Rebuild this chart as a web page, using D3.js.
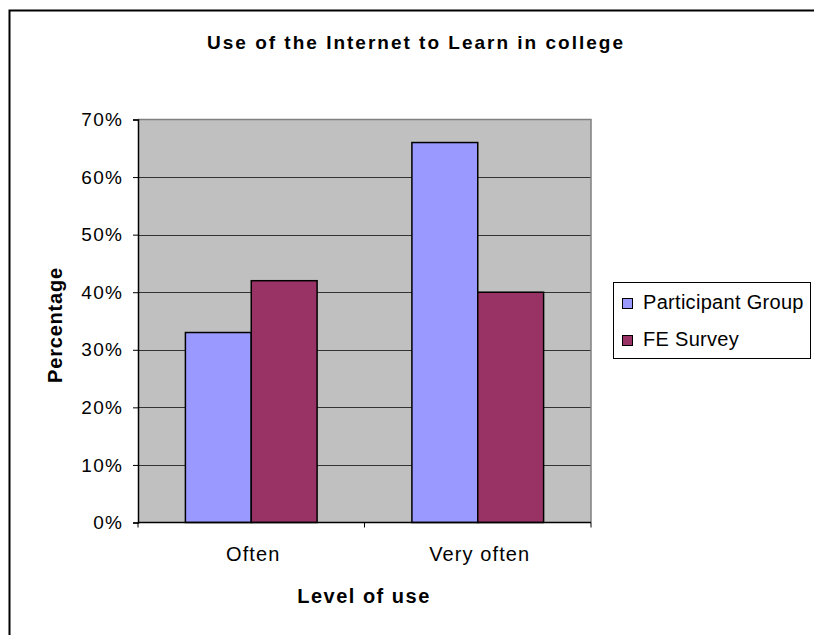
<!DOCTYPE html>
<html>
<head>
<meta charset="utf-8">
<script src="https://cdn.jsdelivr.net/npm/d3@7"></script>
<style>
  html, body { margin: 0; padding: 0; background: #fff; }
  svg { display: block; font-family: "Liberation Sans", Arial, sans-serif; }
</style>
</head>
<body>
<script>
// Chart data
const categories = ["Often", "Very often"];
const seriesNames = ["Participant Group", "FE Survey"];
const participantGroup = [0.33, 0.66];
const feSurvey = [0.42, 0.40];
const yTicks = [0, 0.1, 0.2, 0.3, 0.4, 0.5, 0.6, 0.7];
const seriesColors = ["#9999ff", "#993366"];

const W = 814, H = 635;
const plot = { left: 138, right: 591, top: 119.5, bottom: 522.5 };

const svg = d3.select("body").append("svg")
  .attr("width", W).attr("height", H);

// Outer chart frame
svg.append("rect")
  .attr("x", 9.5).attr("y", 10.5)
  .attr("width", 830).attr("height", 640)
  .attr("fill", "#fff").attr("stroke", "#000").attr("stroke-width", 2);

// Title
svg.append("text")
  .attr("x", 416).attr("y", 49)
  .attr("text-anchor", "middle")
  .attr("font-size", 19).attr("font-weight", "bold")
  .attr("letter-spacing", 2)
  .text("Use of the Internet to Learn in college");

const x0 = d3.scaleBand().domain(categories)
  .range([plot.left, plot.right]).paddingInner(0).paddingOuter(0);
const x1 = d3.scaleBand().domain(seriesNames)
  .range([0, x0.bandwidth()]).paddingInner(0).paddingOuter(0.72);
const y = d3.scaleLinear().domain([0, 0.7]).range([plot.bottom, plot.top]);

// Plot area background
svg.append("rect")
  .attr("x", plot.left).attr("y", plot.top)
  .attr("width", plot.right - plot.left).attr("height", plot.bottom - plot.top)
  .attr("fill", "#c0c0c0");

// Gridlines
svg.append("g").selectAll("line")
  .data(yTicks.filter(d => d > 0 && d < 0.7))
  .join("line")
  .attr("x1", plot.left).attr("x2", plot.right)
  .attr("y1", d => Math.round(y(d)) + 0.5).attr("y2", d => Math.round(y(d)) + 0.5)
  .attr("stroke", "#333").attr("stroke-width", 1);

// Plot border (top / right)
svg.append("path")
  .attr("d", `M${plot.left},${plot.top}H${plot.right}V${plot.bottom}`)
  .attr("fill", "none").attr("stroke", "#808080").attr("stroke-width", 1.5);

// Bars
const rows = categories.map((c, i) => ({ cat: c, values: [participantGroup[i], feSurvey[i]] }));
const groups = svg.append("g").selectAll("g")
  .data(rows).join("g")
  .attr("transform", d => `translate(${x0(d.cat)},0)`);
groups.selectAll("rect")
  .data(d => d.values.map((v, j) => ({ name: seriesNames[j], v, j })))
  .join("rect")
  .attr("x", d => x1(d.name))
  .attr("y", d => y(d.v))
  .attr("width", x1.bandwidth())
  .attr("height", d => plot.bottom - y(d.v))
  .attr("fill", d => seriesColors[d.j])
  .attr("stroke", "#000").attr("stroke-width", 1.5);

// Y axis
const yAxis = d3.axisLeft(y).tickValues(yTicks)
  .tickFormat(d3.format(".0%")).tickSize(5).tickPadding(10);
const gy = svg.append("g").attr("transform", `translate(${plot.left},0)`).call(yAxis);
gy.select(".domain").attr("stroke", "#000").attr("stroke-width", 1.5);
gy.selectAll(".tick line").attr("stroke", "#000");
gy.selectAll(".tick text").attr("font-size", 19).attr("fill", "#000")
  .attr("letter-spacing", 1.2)
  .attr("font-family", "Liberation Sans, Arial, sans-serif");

// X axis: ticks at category boundaries
const gx = svg.append("g").attr("transform", `translate(0,${plot.bottom})`);
gx.append("line")
  .attr("x1", plot.left).attr("x2", plot.right)
  .attr("stroke", "#000").attr("stroke-width", 1.5);
const boundaries = [plot.left, ...categories.map(c => x0(c) + x0.bandwidth())];
gx.selectAll(".bt").data(boundaries).join("line")
  .attr("x1", d => d).attr("x2", d => d)
  .attr("y1", 0).attr("y2", 5)
  .attr("stroke", "#000");
gx.selectAll(".cl").data(categories).join("text")
  .attr("x", d => x0(d) + x0.bandwidth() / 2 + 2)
  .attr("y", 38)
  .attr("text-anchor", "middle")
  .attr("font-size", 20)
  .attr("letter-spacing", 1.1)
  .text(d => d);

// Axis titles
svg.append("text")
  .attr("x", 364).attr("y", 603)
  .attr("text-anchor", "middle")
  .attr("font-size", 20).attr("font-weight", "bold")
  .attr("letter-spacing", 1.5)
  .text("Level of use");
svg.append("text")
  .attr("transform", `translate(62,${(plot.top + plot.bottom) / 2 + 4}) rotate(-90)`)
  .attr("text-anchor", "middle")
  .attr("font-size", 20).attr("font-weight", "bold")
  .attr("letter-spacing", 0.8)
  .text("Percentage");

// Legend
const legend = svg.append("g");
legend.append("rect")
  .attr("x", 613.5).attr("y", 282.5)
  .attr("width", 197).attr("height", 76)
  .attr("fill", "#fff").attr("stroke", "#000").attr("stroke-width", 1);
const items = legend.selectAll(".li").data(seriesNames).join("g")
  .attr("transform", (d, i) => `translate(0,${i * 37})`);
items.append("rect")
  .attr("x", 622.5).attr("y", 298.5)
  .attr("width", 10).attr("height", 10)
  .attr("fill", (d, i) => seriesColors[i])
  .attr("stroke", "#000").attr("stroke-width", 1);
items.append("text")
  .attr("x", 643).attr("y", 309)
  .attr("font-size", 20)
  .attr("letter-spacing", 0.3)
  .text(d => d);
</script>
</body>
</html>
